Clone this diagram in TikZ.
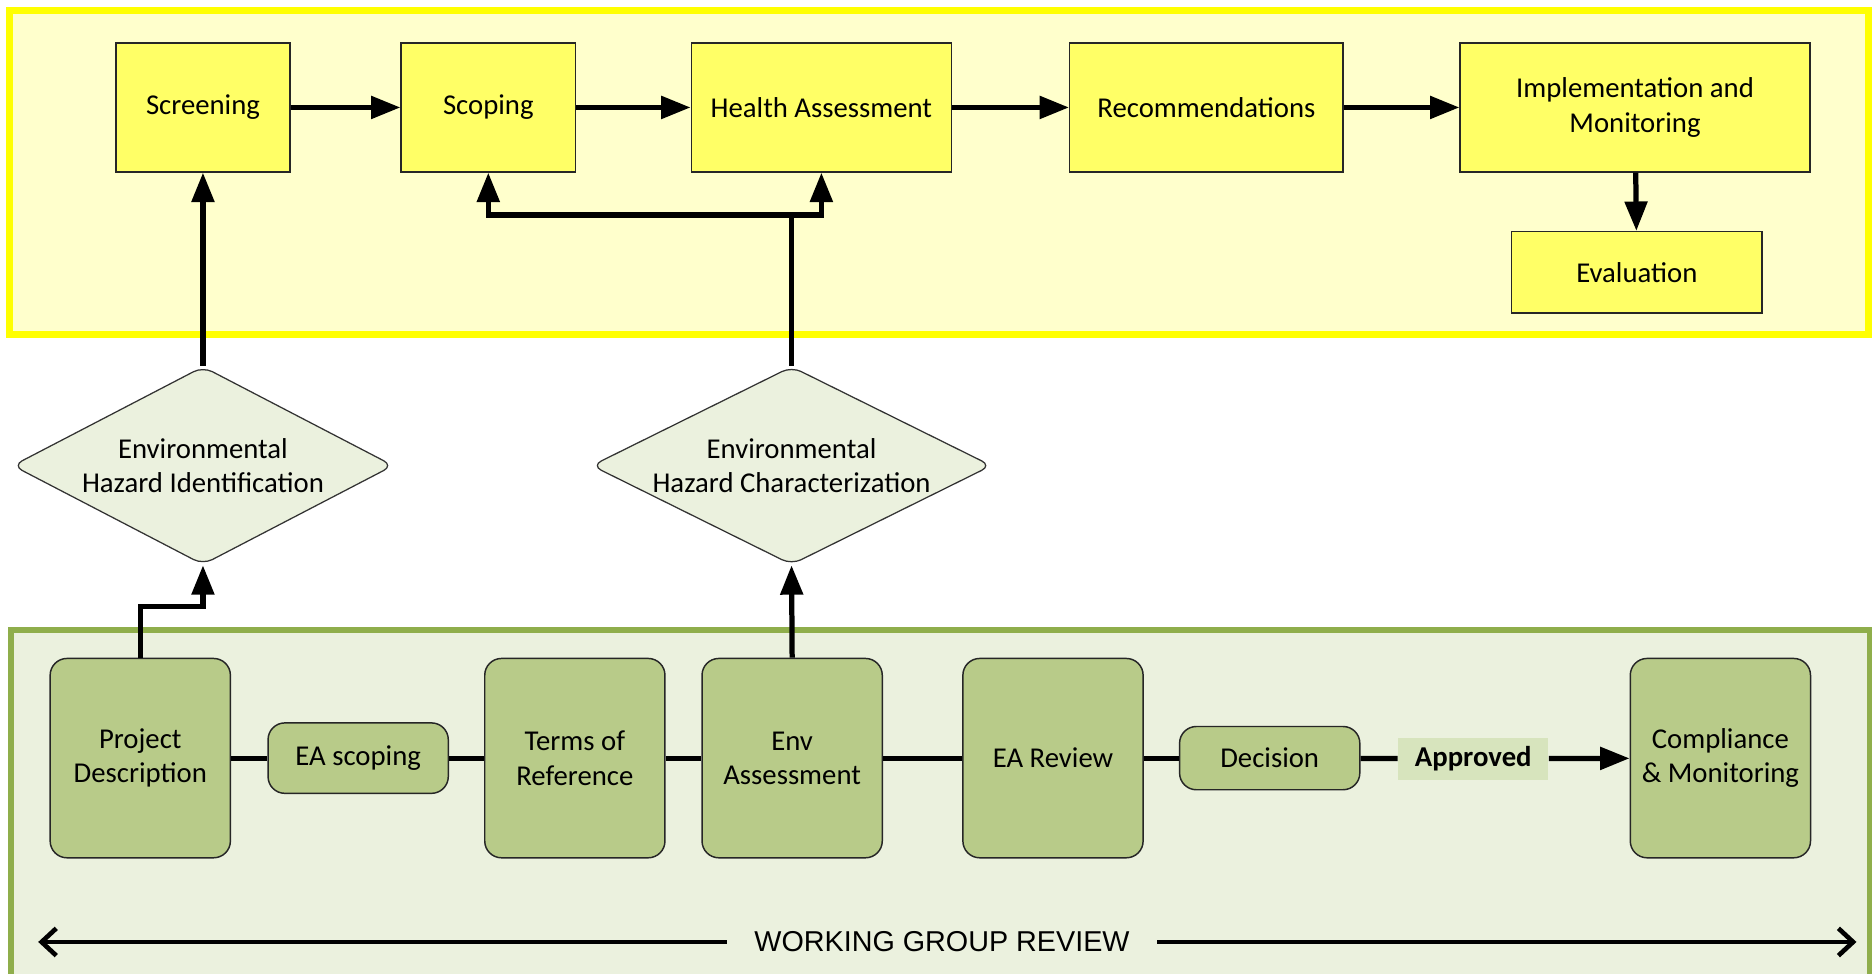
\documentclass[tikz,border=0pt]{standalone}
\usepackage{fontspec}
\setmainfont{Carlito}
\newfontfamily\arialfont{Liberation Sans}
\usetikzlibrary{shapes.geometric, arrows.meta}

\definecolor{frameyel}{HTML}{FFFF00}
\definecolor{paleyel}{HTML}{FFFFCC}
\definecolor{boxyel}{HTML}{FFFF66}
\definecolor{framegrn}{HTML}{8FAE4B}
\definecolor{palegrn}{HTML}{EBF1DE}
\definecolor{boxgrn}{HTML}{B8CB89}
\definecolor{tagrn}{HTML}{D7E4BD}

\begin{document}
\begin{tikzpicture}[x=0.02cm, y=-0.02cm,
    font=\fontsize{13.7}{16.4}\selectfont,
    stagebox/.style={draw=black!85, line width=0.7pt, fill=boxyel, minimum height=2.16cm, align=center, inner sep=0pt},
    hazard/.style={diamond, draw=black!80, line width=0.6pt, fill=palegrn, rounded corners=5pt, inner sep=0pt, minimum width=#1, minimum height=3.32cm},
    eabox/.style={draw=black!85, line width=0.7pt, fill=boxgrn, rounded corners=8pt, minimum width=3.02cm, minimum height=3.34cm, align=center, inner sep=0pt},
    eapill/.style={eabox, minimum height=#1},
    flow/.style={line width=2.5pt, -{Triangle[length=14pt, width=10.5pt]}},
    link/.style={line width=2.5pt},
    review/.style={line width=2.2pt, -{Straight Barb[length=7pt, width=13pt]}}
  ]
    \useasboundingbox (0,0) rectangle (1568,815);

    % Background panels
    \draw[line width=3.4pt, draw=frameyel, fill=paleyel] (8,9) rectangle (1565,280);
    \draw[line width=2.8pt, draw=framegrn, fill=palegrn] (9,528) rectangle (1566,822);

    % Health impact assessment stages
    \node[stagebox, minimum width=2.92cm] (scr) at (170,90) {Screening};
    \node[stagebox, minimum width=2.92cm] (scp) at (409,90) {Scoping};
    \node[stagebox, minimum width=4.36cm] (hea) at (688,90) {Health Assessment};
    \node[stagebox, minimum width=4.58cm] (rec) at (1010.5,90) {Recommendations};
    \node[stagebox, minimum width=5.86cm] (imp) at (1369.5,90) {Implementation and\\Monitoring};
    \node[stagebox, minimum width=4.2cm, minimum height=1.36cm] (eva) at (1371,228) {Evaluation};

    % Hazard steps
    \node[hazard=6.38cm, label={[align=center]center:Environmental\\Hazard Identification}] (ehi) at (170,390) {};
    \node[hazard=6.7cm, label={[align=center]center:Environmental\\Hazard Characterization}] (ehc) at (663,390) {};

    % Environmental assessment steps
    \node[eabox] (proj) at (117.5,635) {Project\\Description};
    \node[eapill=1.18cm] (eas) at (300,635) {EA scoping};
    \node[eabox] (tor) at (481.5,635) {Terms of\\Reference};
    \node[eabox] (env) at (663.5,635) {Env\\Assessment};
    \node[eabox] (rev) at (882,635) {EA Review};
    \node[eapill=1.06cm] (dec) at (1063.5,635) {Decision};
    \node[fill=tagrn, minimum width=2.52cm, minimum height=0.7cm, inner sep=0pt, font=\bfseries\fontsize{13.7}{16.4}\selectfont] (appr) at (1234,635.5) {Approved};
    \node[eabox] (comp) at (1441,635) {Compliance\\\& Monitoring};

    \node[font=\arialfont\fontsize{13.7}{16.4}\selectfont, inner xsep=0.46cm] (wgr) at (789,789) {WORKING GROUP REVIEW};
    \coordinate (wl) at (32,789);
    \coordinate (wr) at (1555,789);

    % Arrows along the top row
    \draw[flow] (scr) -- (scp);
    \draw[flow] (scp) -- (hea);
    \draw[flow] (hea) -- (rec);
    \draw[flow] (rec) -- (imp);
    \draw[flow] (imp) -- (eva);

    % Arrows up from the hazard steps
    \coordinate (split) at (663,180);
    \coordinate (jog) at (170,508);
    \draw[flow] (ehi.north) -- (scr.south);
    \draw[link] (ehc.north) -- (split);
    \draw[flow] (split) -| (scp.south);
    \draw[flow] (split) -| (hea.south);
    \draw[flow] (proj.north) |- (jog) -- (ehi.south);
    \draw[flow] (env.north) -- (ehc.south);

    % Links along the bottom row
    \draw[link] (proj) -- (eas);
    \draw[link] (eas) -- (tor);
    \draw[link] (tor) -- (env);
    \draw[link] (env) -- (rev);
    \draw[link] (rev) -- (dec);
    \draw[link] (dec) -- (appr);
    \draw[flow] (appr) -- (comp);

    % Working group review span
    \draw[review] (wgr.west) -- (wl);
    \draw[review] (wgr.east) -- (wr);
\end{tikzpicture}
\end{document}
